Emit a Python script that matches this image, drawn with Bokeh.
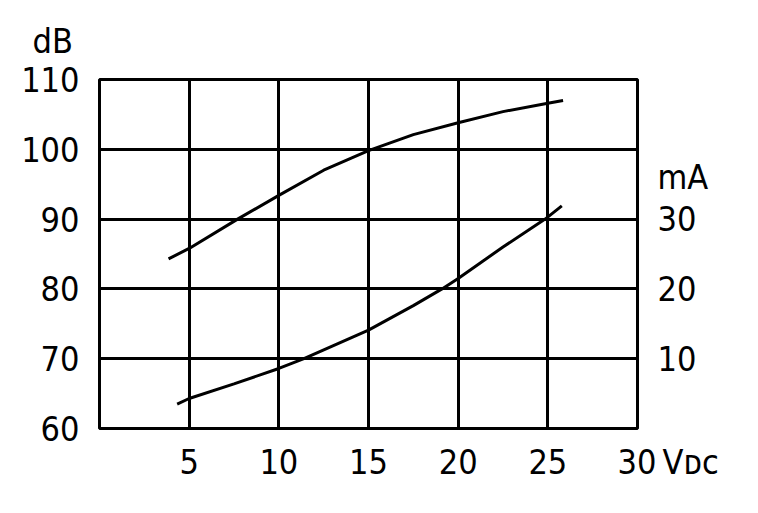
from bokeh.plotting import figure
from bokeh.models import Range1d, LinearAxis, FixedTicker, Title
from bokeh.embed import file_html
from bokeh.resources import INLINE

# Data
vdc_db = [3.85, 5, 7.7, 10, 12.5, 15, 17.5, 20, 22.5, 25, 25.85]
db_vals = [84.3, 85.8, 90.0, 93.4, 97.0, 99.8, 102.1, 103.8, 105.4, 106.6, 107.0]

vdc_ma = [4.33, 5, 7.5, 10, 11.4, 15, 17.5, 19.1, 20, 22.5, 24.85, 25.78]
ma_vals = [3.5, 4.3, 6.4, 8.6, 10.0, 14.1, 17.6, 20.0, 21.5, 26.0, 30.0, 31.9]

x_ticks = [5, 10, 15, 20, 25, 30]
db_ticks = [60, 70, 80, 90, 100, 110]
ma_ticks = [10, 20, 30]
ma_unit_pos = 36  # where the "mA" unit caption sits on the right axis
# last x tick carries the unit; figure spaces keep "30" centred on its gridline
x_unit_label = "\u2007\u2007\u2007\u200a30\u2009V\u1d05\u1d04"

FONT = "DejaVu Sans Condensed"

p = figure(frame_width=538, frame_height=349, output_backend="svg",
           toolbar_location=None, x_range=Range1d(0, 30), y_range=Range1d(60, 110),
           min_border_left=99, min_border_top=78, min_border_right=100,
           min_border_bottom=66)
p.extra_y_ranges = {"ma": Range1d(0, 50)}

p.outline_line_color = "black"
p.outline_line_width = 3
p.outline_line_alpha = 1.0

def style(ax):
    ax.axis_line_color = None
    ax.major_tick_line_color = None
    ax.minor_tick_line_color = None
    ax.major_tick_out = 0
    ax.major_tick_in = 0
    ax.major_label_text_font = FONT
    ax.major_label_text_font_size = "34px"
    ax.major_label_text_color = "black"

style(p.xaxis[0])
style(p.yaxis[0])
p.xaxis[0].ticker = FixedTicker(ticks=x_ticks)
p.xaxis[0].major_label_overrides = {x_ticks[-1]: x_unit_label}
p.xaxis[0].major_label_standoff = 13
p.yaxis[0].ticker = FixedTicker(ticks=db_ticks)
p.yaxis[0].major_label_standoff = 20

rax = LinearAxis(y_range_name="ma", ticker=FixedTicker(ticks=ma_ticks + [ma_unit_pos]))
style(rax)
rax.major_label_overrides = {ma_unit_pos: "mA"}
rax.major_label_standoff = 20
p.add_layout(rax, "right")

p.xgrid.ticker = FixedTicker(ticks=[5, 10, 15, 20, 25])
p.ygrid.ticker = FixedTicker(ticks=[70, 80, 90, 100])
for g in [p.xgrid[0], p.ygrid[0]]:
    g.grid_line_color = "black"
    g.grid_line_width = 3
    g.grid_line_alpha = 1.0

p.line(vdc_db, db_vals, line_color="black", line_width=3)
p.line(vdc_ma, ma_vals, line_color="black", line_width=3, y_range_name="ma")

# dB unit caption (title above the left axis)
t = Title(text="dB", align="left", offset=-67, text_font=FONT,
          text_font_size="34px", text_font_style="normal", standoff=37,
          text_color="black")
p.add_layout(t, "above")

p.background_fill_color = "white"
p.border_fill_color = "white"

open("out.html", "w").write(file_html(p, INLINE))
